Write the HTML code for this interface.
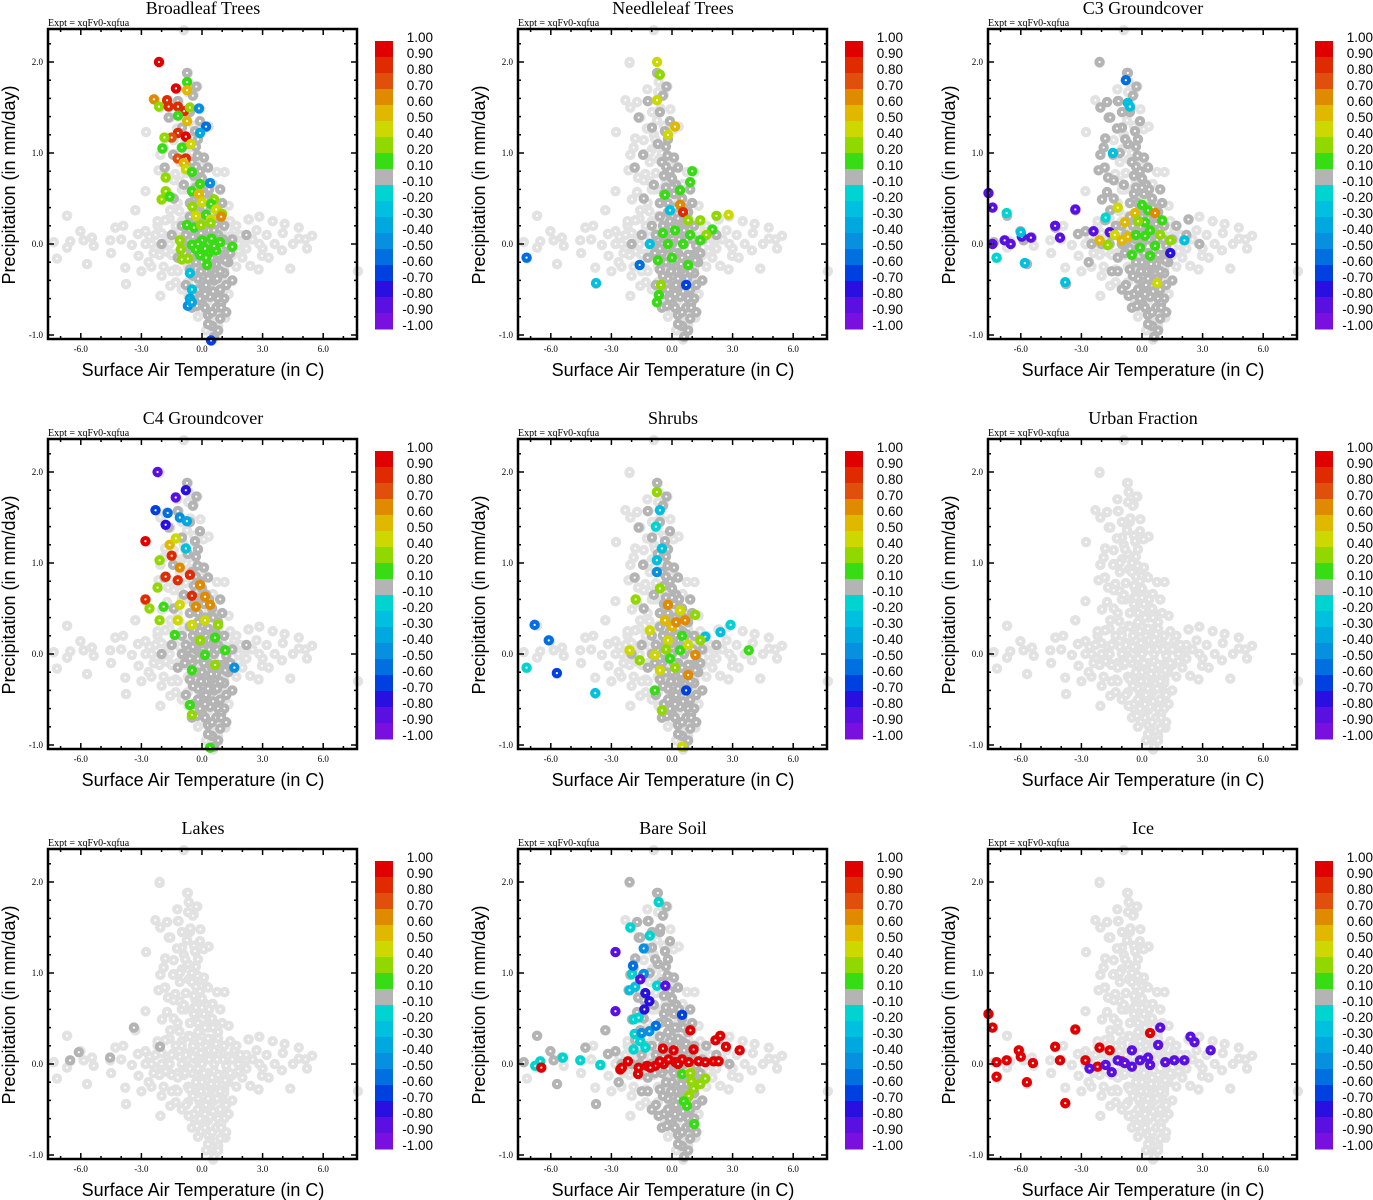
<!DOCTYPE html>
<html><head><meta charset="utf-8"><style>
html,body{margin:0;padding:0;background:#fff}
svg{display:block}
</style></head><body>
<svg id="fig" width="1373" height="1200" viewBox="0 0 1373 1200" xmlns="http://www.w3.org/2000/svg"></svg>
<script>
// ---------- data ----------
const titles = ["Broadleaf Trees","Needleleaf Trees","C3 Groundcover","C4 Groundcover","Shrubs","Urban Fraction","Lakes","Bare Soil","Ice"];
const xTicks = [-6,-3,0,3,6];
const xTickLabels = ["-6.0","-3.0","0.0","3.0","6.0"];
const yTicks = [-1,0,1,2];
const yTickLabels = ["-1.0","0.0","1.0","2.0"];
const levels = [1.00,0.90,0.80,0.70,0.60,0.50,0.40,0.20,0.10,-0.10,-0.20,-0.30,-0.40,-0.50,-0.60,-0.70,-0.80,-0.90,-1.00];
const levelLabels = ["1.00","0.90","0.80","0.70","0.60","0.50","0.40","0.20","0.10","-0.10","-0.20","-0.30","-0.40","-0.50","-0.60","-0.70","-0.80","-0.90","-1.00"];
const binColors = ["#e00000","#e02a00","#e04f0c","#e08a00","#e0b800","#ccd800","#90d800","#38dc14","#b4b4b4","#00d4d0","#00c0e0","#00a8e0","#0890e0","#0070e0","#0040e0","#2a10e0","#5a10e0","#7a10e0"];

const lightCloud = [[-2.1,1.99],[-0.7,1.88],[-0.66,1.78],[-0.23,1.73],[-1.22,1.7],[-0.69,1.67],[-0.41,1.64],[-2.31,1.58],[-1.73,1.56],[-1.16,1.57],[-2.06,1.5],[-0.08,1.48],[-0.58,1.49],[-0.99,1.45],[-1.57,1.39],[-0.74,1.36],[-1.24,1.27],[0.33,1.29],[0.08,1.26],[-2.77,1.23],[-0.33,1.23],[-1.82,1.16],[-0.83,1.15],[-1.4,1.14],[-0.33,1.08],[-1.9,1.06],[-0.99,1.04],[-2.06,0.98],[-1.4,0.99],[-0.66,0.93],[-0.08,0.92],[-2.15,0.81],[-1.82,0.84],[-1.32,0.77],[0.25,0.85],[0.74,0.79],[1.12,0.79],[-1.68,0.73],[-1.1,0.69],[-0.33,0.71],[0.17,0.66],[0.53,0.66],[-2.8,0.58],[-1.73,0.57],[-1.98,0.49],[-0.83,0.6],[0.91,0.6],[-0.33,0.53],[0.33,0.49],[1.32,0.42],[-3.3,0.37],[-1.57,0.37],[-1.12,0.36],[-1.82,0.26],[-0.66,0.31],[0.66,0.29],[-6.68,0.31],[2.31,0.27],[2.84,0.3],[3.5,0.25],[4.09,0.22],[4.79,0.18],[-4.29,0.18],[-6.02,0.14],[-5.45,0.07],[-5.86,0.04],[-4.54,0.04],[-3.17,0.11],[-2.8,0.14],[-3.47,-0.01],[-6.52,0.03],[-7.34,0.02],[-6.68,-0.04],[-5.36,-0.02],[-7.18,-0.16],[-5.69,-0.22],[-3.8,-0.26],[-3.14,-0.13],[-2.64,-0.2],[-3.76,-0.44],[-2.06,-0.57],[-1.57,-0.46],[-0.66,-0.57],[0.08,-0.59],[-0.05,-0.74],[1.16,-0.81],[0.66,-0.97],[4.37,-0.27],[2.39,-0.24],[2.97,-0.13],[3.96,-0.07],[5.12,0.05],[5.45,0.09],[7.72,-0.3],[0.91,-0.7],[1.32,-0.55],[1.8,0.0],[2.5,0.05],[3.2,0.1],[4.5,0.0],[3.0,-0.05],[-2.3,-0.05],[-2.8,0.0],[-1.6,-0.1],[2.0,-0.15],[1.6,0.15],[-4.0,0.05],[-2.2,0.2],[0.55,-1.05],[0.8,-0.9],[-0.9,2.35],[4.0,0.12],[3.6,0.0],[4.8,0.06],[5.2,-0.05],[2.7,0.15],[3.3,-0.15],[2.2,-0.05],[2.8,-0.28],[-2.5,-0.25],[-3.0,-0.3],[-2.0,-0.35],[-4.5,-0.1],[-3.9,0.2]];

const lightDense = [[-2.6,0.08],[-2.3,0.1],[-2.0,0.12],[-1.7,0.08],[-1.4,0.12],[-1.1,0.08],[-0.8,0.12],[-0.5,0.1],[-0.2,0.12],[0.1,0.1],[0.4,0.12],[0.7,0.08],[1.0,0.12],[1.3,0.08],[1.6,0.05],[1.9,0.1],[2.2,0.05],[-2.4,-0.1],[-2.1,-0.12],[-1.8,-0.08],[-1.5,-0.12],[-1.2,-0.1],[-0.9,-0.12],[-0.6,-0.08],[-0.3,-0.12],[0.0,-0.1],[0.3,-0.12],[0.6,-0.08],[0.9,-0.12],[1.2,-0.1],[1.5,-0.12],[1.8,-0.08],[-2.2,0.25],[-1.6,0.28],[-1.0,0.25],[-0.4,0.28],[0.2,0.25],[0.8,0.28],[1.4,0.25],[-1.9,-0.25],[-1.3,-0.28],[-0.7,-0.25],[-0.1,-0.28],[0.5,-0.25],[1.1,-0.28],[1.7,-0.25],[-1.2,0.45],[-0.6,0.45],[0.0,0.42],[0.6,0.45],[-1.0,0.6],[-0.4,0.62],[0.2,0.6],[-0.8,0.78],[-0.2,0.8],[-1.1,0.9],[-0.5,1.0],[-0.9,1.2],[-0.4,1.3],[-1.3,-0.42],[-0.7,-0.42],[-0.1,-0.42],[0.5,-0.42],[1.1,-0.42],[-0.4,-0.6],[0.3,-0.62],[0.9,-0.6],[-0.2,-0.8],[0.4,-0.82],[1.0,-0.8],[0.2,-0.95]];

const darkBase = [[-0.74,1.88],[-0.28,1.73],[-0.45,1.63],[-1.2,1.57],[-1.65,1.39],[-0.35,1.24],[-0.99,1.28],[-0.3,1.07],[-0.22,0.97],[-1.43,0.98],[-1.85,0.84],[0.3,0.84],[-0.5,0.9],[-0.1,0.8],[0.0,0.72],[0.2,0.65],[-0.3,0.62],[0.1,0.55],[0.5,0.5],[-0.2,0.45],[0.3,0.4],[0.8,0.35],[0.0,0.3],[-0.6,0.3],[0.5,0.25],[1.1,0.2],[-1.0,0.2],[-0.3,0.15],[0.2,0.12],[0.8,0.1],[-1.5,0.1],[1.5,0.05],[-2.0,0.0],[-1.0,0.0],[0.0,0.0],[0.6,0.0],[1.2,-0.02],[-0.5,-0.1],[0.3,-0.1],[1.0,-0.12],[-1.2,-0.15],[0.0,-0.2],[0.7,-0.22],[-0.6,-0.28],[0.4,-0.3],[1.1,-0.32],[-0.2,-0.38],[0.6,-0.4],[0.0,-0.48],[0.9,-0.5],[-0.4,-0.55],[0.4,-0.58],[1.1,-0.6],[0.0,-0.65],[0.7,-0.7],[-0.5,-0.7],[0.3,-0.78],[0.9,-0.82],[0.5,-0.9],[0.8,-0.95],[0.6,-1.02],[1.5,-0.4],[-0.8,-0.45],[2.2,0.1],[-1.4,0.5],[-0.9,0.65],[0.9,0.6],[1.3,-0.2],[-0.1,1.35],[-0.6,1.45],[0.1,0.95],[-0.4,0.75],[0.2,0.2],[-0.2,-0.05],[0.5,-0.15],[0.2,-0.45],[0.8,-0.6],[-0.3,0.05],[0.4,0.1],[1.0,0.45],[-0.7,0.05],[0.2,-0.3],[0.9,-0.3],[-0.1,-0.6]];

const darkDense = [[-0.4,0.55],[0.0,0.62],[0.35,0.6],[-0.2,0.35],[0.15,0.4],[0.55,0.4],[-0.45,0.2],[-0.1,0.25],[0.3,0.28],[0.7,0.22],[-0.8,0.1],[-0.45,0.08],[-0.05,0.12],[0.35,0.05],[0.75,0.05],[1.05,0.05],[-0.85,-0.1],[-0.3,-0.2],[0.1,-0.1],[0.45,-0.22],[0.8,-0.12],[1.15,-0.18],[-0.45,-0.35],[-0.05,-0.3],[0.3,-0.38],[0.75,-0.38],[1.2,-0.45],[-0.2,-0.5],[0.15,-0.55],[0.55,-0.52],[0.95,-0.65],[-0.25,-0.68],[0.15,-0.7],[0.5,-0.75],[1.2,-0.75],[0.3,-0.88],[0.95,-0.7],[-0.6,0.45],[-0.3,0.85],[-0.7,1.1],[-0.2,1.15],[0.35,0.15],[-0.6,-0.05],[1.4,-0.1],[0.6,0.15]];

const darkWide = [[-2.1,2.0],[-0.7,1.88],[-1.73,1.56],[-2.06,1.5],[-1.57,1.39],[-1.24,1.27],[-1.82,1.16],[-1.9,1.06],[-2.06,0.98],[-2.15,0.81],[-1.68,0.73],[-1.73,0.57],[-1.98,0.49],[-3.3,0.37],[-1.57,0.37],[-1.82,0.26],[-6.68,0.31],[-6.02,0.14],[-5.45,0.07],[-5.86,0.04],[-4.29,0.18],[-3.17,0.11],[-2.8,0.14],[-2.64,-0.2],[-3.76,-0.44],[-7.34,0.02],[-5.69,-0.22],[-2.5,0.0],[-1.5,-0.3],[-1.0,-0.5],[-0.66,-0.57],[1.7,0.2],[2.3,0.27],[2.84,0.0],[-1.16,1.57],[-0.58,1.49],[-0.99,1.45],[-0.83,1.15],[-1.3,0.2],[-1.6,0.0],[-1.2,-0.3],[-1.4,0.7],[-1.1,1.0]];

const lakesDark = [[-6.53,0.04],[-6.1,0.13],[-4.55,0.07],[-3.37,0.4],[-2.08,0.19]];

const colBroadleaf = [[-2.13,2.0,0.9],[-1.29,1.71,0.9],[-0.74,1.78,0.1],[-0.74,1.69,0.5],[-2.38,1.59,0.6],[-1.73,1.58,0.8],[-2.13,1.51,0.2],[-1.65,1.51,0.8],[-1.19,1.51,0.8],[-0.89,1.46,0.8],[-0.6,1.5,0.2],[-0.15,1.49,-0.5],[-1.19,1.41,0.1],[-0.74,1.35,0.5],[0.2,1.29,-0.6],[-0.1,1.22,-0.4],[-1.19,1.22,0.8],[-1.5,1.17,0.7],[-1.86,1.17,0.2],[-0.8,1.18,0.9],[-1.0,1.06,0.1],[-0.55,1.1,0.4],[-1.96,1.05,0.1],[-1.2,0.94,0.7],[-0.8,0.94,0.8],[-0.9,0.89,0.5],[-0.8,0.82,0.4],[-0.5,0.79,0.1],[-1.8,0.73,0.2],[-1.8,0.58,0.2],[-2.0,0.49,0.2],[-1.6,0.52,0.1],[0.4,0.67,-0.5],[-0.1,0.66,0.1],[-0.5,0.58,0.1],[-0.15,0.55,0.5],[0.6,0.49,0.2],[0.0,0.46,0.4],[-0.48,0.41,0.2],[0.45,0.44,0.1],[0.7,0.38,0.4],[1.0,0.33,0.2],[0.95,0.3,0.6],[0.2,0.32,0.1],[-0.3,0.31,0.4],[0.44,0.27,0.4],[-0.75,0.21,0.1],[-0.4,0.18,0.1],[-0.05,0.21,0.2],[0.43,0.23,0.2],[-1.1,0.04,0.2],[-0.5,-0.01,0.1],[0.0,0.04,0.1],[0.47,0.06,0.1],[0.9,0.02,0.1],[1.5,-0.03,0.1],[-1.05,-0.06,0.2],[-0.3,-0.06,0.1],[0.3,-0.11,0.1],[0.7,-0.07,0.1],[-1.0,-0.17,0.2],[-0.7,-0.16,0.2],[0.25,-0.23,0.1],[0.15,-0.05,0.1],[-0.1,-0.12,0.1],[0.2,-0.15,0.1],[-0.2,0.0,0.1],[0.6,-0.02,0.1],[-0.6,-0.32,-0.3],[-0.5,-0.5,-0.3],[-0.6,-0.6,-0.4],[-0.7,-0.68,-0.5],[-0.5,-0.64,-0.4],[0.45,-1.06,-0.7]];

const colNeedleleaf = [[-0.74,2.0,0.4],[-0.6,1.86,0.2],[0.15,1.29,0.5],[-0.2,1.2,0.4],[-0.74,1.58,0.4],[1.0,0.8,0.1],[0.9,0.68,0.1],[0.4,0.43,0.6],[0.55,0.35,0.8],[-0.35,0.54,0.1],[0.8,0.26,0.2],[1.4,0.26,0.2],[2.2,0.31,0.2],[2.8,0.32,0.4],[2.0,0.16,0.1],[1.7,0.1,0.2],[0.9,0.1,0.1],[0.15,0.15,0.1],[-0.45,0.12,0.1],[-1.1,0.0,-0.3],[-0.2,0.0,0.1],[0.55,0.0,0.1],[1.4,0.04,0.1],[0.0,-0.15,0.1],[-0.7,-0.18,0.1],[0.8,-0.23,0.1],[-0.55,-0.45,0.2],[-0.65,-0.56,0.1],[-0.75,-0.64,0.1],[-7.2,-0.15,-0.6],[-3.76,-0.43,-0.3],[-1.6,-0.23,-0.6],[0.7,-0.45,-0.7],[0.4,0.59,0.1],[-0.1,0.37,-0.3]];

const colC3 = [[-7.6,0.56,-0.9],[-7.4,0.4,-0.9],[-7.4,0.0,-0.9],[-6.8,0.04,-0.9],[-6.5,0.0,-0.9],[-5.95,0.08,-0.9],[-5.5,0.07,-0.9],[-4.3,0.2,-0.9],[-4.06,0.07,-0.9],[-3.3,0.38,-0.9],[-2.4,0.14,-0.9],[-1.6,0.13,-0.9],[1.4,-0.1,-0.8],[-6.7,0.34,-0.2],[-6.0,0.13,-0.3],[-7.2,-0.15,-0.2],[-5.8,-0.21,-0.3],[-3.8,-0.42,-0.3],[-1.8,0.29,-0.2],[-0.7,1.55,-0.3],[-0.8,1.8,-0.6],[-1.44,1.0,-0.3],[-0.6,1.51,-0.3],[0.0,0.43,0.1],[0.3,0.37,0.1],[-0.35,0.34,0.5],[0.65,0.34,0.6],[-0.85,0.24,0.5],[0.15,0.24,0.1],[1.0,0.26,0.1],[-1.35,0.1,0.4],[-0.7,0.08,0.5],[0.15,0.09,0.1],[0.9,0.1,0.2],[-1.7,-0.01,0.2],[-1.0,0.04,0.5],[-0.1,-0.04,0.1],[0.65,-0.02,0.1],[1.4,0.04,0.2],[-0.5,-0.12,0.1],[0.4,-0.13,0.1],[0.75,-0.43,0.4],[2.1,0.04,-0.3],[-2.1,0.04,0.5],[-1.2,0.4,0.4],[-0.3,0.1,0.1],[0.4,0.15,0.1],[-0.2,0.25,0.2]];

const colC4 = [[-2.2,2.0,-0.9],[-1.3,1.72,-0.9],[-0.8,1.8,-0.8],[-2.3,1.58,-0.7],[-1.7,1.55,-0.6],[-1.1,1.5,-0.5],[-1.8,1.42,-0.8],[-0.75,1.46,-0.4],[-2.8,1.24,0.9],[-1.6,1.2,0.5],[-1.3,1.27,0.4],[-0.8,1.16,-0.3],[-2.1,1.03,0.2],[-1.5,1.08,0.8],[-0.6,0.87,0.8],[-1.1,0.95,0.6],[-1.8,0.85,0.8],[-2.2,0.73,0.2],[-1.2,0.81,0.8],[-2.8,0.6,0.8],[-1.9,0.52,0.1],[-0.1,0.76,0.6],[-0.5,0.64,0.8],[0.15,0.63,0.6],[-1.1,0.54,0.4],[-0.3,0.52,0.6],[0.4,0.54,0.6],[-1.2,0.37,0.4],[-0.5,0.32,0.4],[0.15,0.37,0.4],[0.8,0.32,0.2],[-1.35,0.21,0.1],[-0.1,0.15,0.2],[0.65,0.18,0.1],[1.15,0.04,0.1],[0.15,-0.01,0.1],[0.65,-0.12,0.2],[1.6,-0.15,-0.5],[-0.5,-0.18,0.1],[-0.6,-0.56,0.1],[-0.5,-0.67,0.2],[0.4,-1.03,0.1],[-2.1,0.37,0.2],[-2.6,0.5,0.2]];

const colShrubs = [[-0.75,1.78,0.2],[-0.6,1.58,-0.3],[-0.8,1.4,-0.2],[-0.5,1.16,-0.3],[-0.75,1.03,-0.3],[-0.75,0.9,-0.5],[-1.8,0.6,0.2],[-0.6,0.72,0.2],[-0.2,0.54,0.6],[0.4,0.48,0.4],[-0.35,0.37,0.5],[0.65,0.37,0.6],[1.15,0.43,0.2],[1.65,0.19,-0.3],[2.4,0.24,-0.3],[2.9,0.32,-0.2],[3.8,0.04,0.1],[-2.1,0.04,0.4],[-1.6,-0.07,0.2],[-0.85,-0.01,0.4],[-0.2,0.15,0.4],[0.4,0.04,0.1],[1.15,-0.01,0.6],[-0.6,-0.18,0.4],[0.15,-0.15,0.2],[0.8,-0.23,0.6],[-0.85,-0.4,0.1],[-0.5,-0.62,0.2],[0.7,-0.4,-0.7],[-6.8,0.32,-0.6],[-6.1,0.15,-0.6],[-7.2,-0.15,-0.2],[-5.7,-0.21,-0.7],[-3.8,-0.43,-0.3],[0.5,-1.02,0.4],[1.4,0.15,0.2],[-1.1,0.26,0.4],[0.0,0.3,0.5],[-0.3,0.05,0.2],[0.5,0.2,0.1],[0.2,0.35,0.6],[-0.1,-0.05,0.1],[0.8,0.1,0.4]];

const colUrban = [];
const colLakes = [];

const colBare = [[-0.66,1.78,-0.2],[-2.06,1.5,-0.2],[-1.1,1.41,-0.2],[-1.98,0.99,-0.2],[-2.1,0.81,-0.3],[-1.82,0.85,-0.3],[-1.9,0.49,-0.2],[-1.65,0.51,-0.2],[-1.85,0.33,-0.2],[-1.9,0.16,-0.2],[-1.32,0.18,-0.2],[-0.74,0.86,-0.2],[-6.77,-0.02,-0.2],[-6.52,0.03,-0.2],[-5.4,0.07,-0.2],[-4.54,0.04,-0.2],[-3.55,-0.01,-0.2],[-1.57,0.25,-0.2],[-1.4,1.27,-0.5],[-1.93,1.08,-0.6],[-1.4,0.99,-0.5],[-1.12,0.36,-0.5],[-1.5,0.34,-0.5],[-0.8,0.42,-0.6],[0.5,0.54,-0.7],[-2.8,1.23,-0.9],[-1.57,0.93,-0.9],[-0.33,0.86,-0.9],[-1.32,0.78,-0.8],[-1.12,0.69,-0.8],[-1.37,0.6,-0.8],[-2.8,0.58,-0.9],[-6.47,-0.04,0.9],[-2.56,-0.06,0.9],[-2.48,-0.04,0.9],[-2.18,0.03,0.9],[-1.68,-0.11,0.9],[-1.65,-0.04,0.9],[-1.24,-0.02,0.9],[-0.83,-0.02,0.9],[-0.41,0.0,0.9],[-0.17,0.05,0.9],[0.08,0.15,0.9],[0.17,0.02,0.9],[0.5,0.05,0.9],[0.83,0.02,0.9],[1.07,0.16,0.9],[0.91,0.37,0.9],[1.32,0.03,0.9],[1.65,0.02,0.9],[2.06,0.03,0.9],[2.31,0.03,0.9],[2.15,0.26,0.9],[2.39,0.31,0.9],[2.67,0.19,0.9],[3.35,0.15,0.9],[-0.45,0.17,0.9],[-1.07,-0.04,0.9],[0.3,0.0,0.9],[-0.6,0.03,0.9],[0.5,-0.11,0.1],[0.91,-0.1,0.2],[0.96,-0.19,0.2],[1.4,-0.22,0.2],[1.65,-0.16,0.2],[1.07,-0.27,0.2],[0.83,-0.35,0.2],[0.58,-0.41,0.1],[0.74,-0.46,0.1],[1.1,-0.66,0.1]];

const colIce = [[-7.6,0.55,0.9],[-7.4,0.4,0.9],[-7.2,0.02,0.9],[-7.2,-0.14,0.9],[-6.7,0.04,0.9],[-6.1,0.15,0.9],[-6.0,0.08,0.9],[-5.7,-0.2,0.9],[-5.4,0.01,0.9],[-4.3,0.19,0.9],[-4.06,0.04,0.9],[-3.8,-0.43,0.9],[-3.3,0.38,0.9],[-2.8,0.04,0.9],[-2.1,0.18,0.9],[-1.6,0.15,0.9],[-2.2,-0.03,0.9],[-1.0,0.03,0.9],[0.4,0.34,0.9],[-2.6,-0.05,-0.9],[-1.8,-0.01,-0.9],[-1.2,0.04,-0.9],[-0.85,0.01,-0.9],[-0.5,0.15,-0.9],[-0.1,0.04,-0.9],[0.3,0.07,-0.9],[0.8,0.21,-0.9],[0.9,0.4,-0.9],[1.15,0.02,-0.9],[1.6,0.04,-0.9],[2.1,0.04,-0.9],[2.4,0.3,-0.9],[2.6,0.24,-0.9],[3.4,0.15,-0.9],[0.4,-0.01,-0.9],[-0.5,-0.03,-0.9],[-1.5,-0.09,-0.9]];

const panelColored = [colBroadleaf,colNeedleleaf,colC3,colC4,colShrubs,colUrban,colLakes,colBare,colIce];
const panelDarkSets = [[darkBase,darkDense],[darkBase,darkDense],[darkBase,darkDense,darkWide],[darkBase,darkDense],[darkBase,darkDense],[],[lakesDark],[darkBase,darkDense,darkWide],[]];

// ---------- drawing ----------
const NS = "http://www.w3.org/2000/svg";
const svg = document.getElementById("fig");
function mk(tag, attrs, parent, text){
  const e = document.createElementNS(NS, tag);
  for (const k in attrs) e.setAttribute(k, attrs[k]);
  if (text !== undefined) e.textContent = text;
  parent.appendChild(e);
  return e;
}
const PX0 = 48, PX1 = 357, PY0 = 29, PY1 = 339;
const xScale = t => 202 + t * 20.2;
const yScale = p => 244 - p * 91;
function colorFor(v){
  for (let i = 0; i < binColors.length; i++) if (v >= levels[i+1] - 1e-9) return binColors[i];
  return binColors[binColors.length-1];
}
function dot(g, t, p, fill, name){
  const c = mk("circle", {cx: xScale(t), cy: yScale(p), r: 5.2, fill: fill}, g);
  
  
  mk("circle", {cx: xScale(t), cy: yScale(p), r: 1.1, fill: "#fff"}, g);
}
const serif = '"Liberation Serif", serif', sans = '"Liberation Sans", sans-serif';

titles.forEach((title, idx) => {
  const col = idx % 3, row = Math.floor(idx / 3);
  const g = mk("g", {transform: `translate(${col*470},${row*410})`}, svg);
  
  

  const tt = mk("text", {x: 203, y: 14, "text-anchor": "middle", "font-family": serif, "font-size": 18, fill: "#000"}, g, title);
  
  
  const ex = mk("text", {x: 48, y: 26, "font-family": serif, "font-size": 10, fill: "#000"}, g, "Expt = xqFv0-xqfua");
  
  

  const pts = mk("g", {}, g);
  
  
  lightCloud.concat(lightDense, darkBase, darkDense, darkWide).forEach(d => dot(pts, d[0], d[1], "#e2e2e2", "background-point"));
  panelDarkSets[idx].forEach(set => set.forEach(d => dot(pts, d[0], d[1], "#b4b4b4", "neutral-point")));
  panelColored[idx].forEach(d => dot(pts, d[0], d[1], colorFor(d[2]), "colored-point"));

  const fr = mk("rect", {x: PX0, y: PY0, width: PX1-PX0, height: PY1-PY0, fill: "none", stroke: "#000", "stroke-width": 2.5}, g);
  
  

  for (let t = -7; t <= 7; t++) {
    const x = xScale(t), major = xTicks.includes(t), L = major ? 6 : 3;
    mk("line", {x1: x, x2: x, y1: PY1, y2: PY1-L, stroke: "#000", "stroke-width": 1.5}, g);
    mk("line", {x1: x, x2: x, y1: PY0, y2: PY0+L, stroke: "#000", "stroke-width": 1.5}, g);
  }
  for (let k = -5; k <= 11; k++) {
    const p = k * 0.2, y = yScale(p), major = (k % 5 === 0), L = major ? 6 : 3;
    mk("line", {x1: PX0, x2: PX0+L, y1: y, y2: y, stroke: "#000", "stroke-width": 1.5}, g);
    mk("line", {x1: PX1, x2: PX1-L, y1: y, y2: y, stroke: "#000", "stroke-width": 1.5}, g);
  }
  xTicks.forEach((t, i) => {
    const e = mk("text", {x: xScale(t), y: 352, "text-anchor": "middle", "font-family": serif, "font-size": 9, fill: "#000"}, g, xTickLabels[i]);
    
    
  });
  yTicks.forEach((p, i) => {
    const e = mk("text", {x: 43, y: yScale(p) + 3, "text-anchor": "end", "font-family": serif, "font-size": 9, fill: "#000"}, g, yTickLabels[i]);
    
    
  });
  const xl = mk("text", {x: 203, y: 376, "text-anchor": "middle", "font-family": sans, "font-size": 18, fill: "#000"}, g, "Surface Air Temperature (in C)");
  
  
  const yl = mk("text", {x: 0, y: 0, transform: "translate(15,185) rotate(-90)", "text-anchor": "middle", "font-family": sans, "font-size": 18, fill: "#000"}, g, "Precipitation (in mm/day)");
  
  

  const cb = mk("g", {}, g);
  
  
  binColors.forEach((c, i) => {
    const r = mk("rect", {x: 375, y: 41 + i*16, width: 18, height: 16.5, fill: c}, cb);
    
    
  });
  levelLabels.forEach((lab, i) => {
    const e = mk("text", {x: 433, y: 41 + i*16 + 1, "text-anchor": "end", "font-family": sans, "font-size": 13.5, fill: "#000"}, cb, lab);
    
    
  });
});
</script>
</body></html>
